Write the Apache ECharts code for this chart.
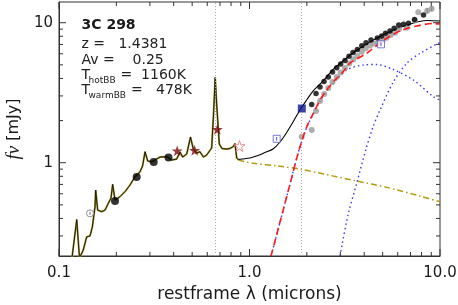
<!DOCTYPE html>
<html><head><meta charset="utf-8">
<script src="https://cdn.jsdelivr.net/npm/echarts@6/dist/echarts.min.js"></script>
<style>html,body{margin:0;padding:0;background:#fff}#c{width:458px;height:305px}</style>
</head><body><div id="c"></div>
<script>
// ---- data (restframe wavelength in microns, flux density in mJy) ----
const specLam=[0.117,0.1239,0.1281,0.1341,0.1397,0.1455,0.1496,0.1545,0.1558,0.1596,0.1675,0.1744,0.1815,0.1875,0.1913,0.1968,0.209,0.222,0.2359,0.2506,0.2662,0.2745,0.2829,0.2921,0.3066,0.3133,0.339,0.3675,0.3905,0.4148,0.4316,0.4459,0.4682,0.4901,0.5069,0.5281,0.5496,0.5723,0.5959,0.6329,0.6471,0.6606,0.6728,0.6942,0.7172,0.7592,0.79,0.8222,0.839,0.8568,0.8733];
const specFlux=[0.209,0.393,0.209,0.238,0.295,0.300,0.347,0.483,0.638,0.459,0.447,0.459,0.513,0.560,0.701,0.541,0.572,0.621,0.693,0.794,0.862,0.947,1.198,1.028,1.017,1.045,1.098,1.104,1.045,1.063,1.192,1.098,1.154,1.526,1.253,1.173,1.198,1.098,1.135,1.274,2.191,4.061,2.584,1.360,1.263,1.253,1.263,1.305,1.371,1.080,1.054];
const totLam=[0.8733,0.9134,1.006,1.108,1.206,1.329,1.446,1.573,1.692,1.841,2.004,2.154,2.345,2.552,2.744,2.987,3.494,4.291,5.270,6.711,8.548,10.0];
const totFlux=[1.054,1.063,1.080,1.126,1.183,1.253,1.406,1.657,1.953,2.379,2.828,3.252,3.649,4.128,4.632,5.112,6.076,7.281,8.440,9.630,10.37,10.28];
const diskLam=[0.8733,1.047,1.416,1.887,3.653,5.251,7.853,10.0];
const diskFlux=[1.045,0.990,0.947,0.894,0.740,0.667,0.578,0.526];
const dustLam=[1.297,1.446,1.632,1.819,1.996,2.162,2.345,2.543,2.754,3.095,3.371,4.123,5.040,6.166,7.545,9.223,10.0];
const dustFlux=[0.2157,0.3771,0.7046,1.232,1.799,2.253,2.805,3.306,3.789,4.445,5.154,6.046,7.463,8.724,9.472,9.870,9.788];
const hotLam=[1.297,1.446,1.632,1.819,1.996,2.162,2.345,2.647,3.237,3.957,4.654,5.686,7.242,9.223,10.0];
const hotFlux=[0.2157,0.3771,0.7046,1.232,1.784,2.228,2.759,3.473,4.593,4.988,5.028,4.632,3.896,2.961,2.805];
const warmLam=[2.987,3.289,3.653,4.074,4.449,4.842,5.686,6.687,7.853,9.797,10.0];
const warmFlux=[0.2157,0.4231,0.7126,1.232,1.799,2.379,3.771,5.129,6.046,7.126,7.16];
const optLam=[0.1968,0.2558,0.3141,0.3756];
const optFlux=[0.534,0.790,1.012,1.089];
const uvLam=[0.1455];
const uvFlux=[0.435];
const starLam=[0.4173,0.5155,0.6776];
const starFlux=[1.218,1.226,1.732];
const openStarLam=[0.886];
const openStarFlux=[1.316];
const nirLam=[1.882];
const nirFlux=[2.439];
const openSqLam=[1.389,4.901];
const openSqFlux=[1.482,7.009];
const irsBlackLam=[2.121,2.234,2.345,2.461,2.592,2.727,2.870,3.010,3.172,3.329,3.494,3.681,3.886,4.089,4.343,4.689,4.943,5.176,5.465,5.748,6.071,6.434,6.832,7.346,8.192];
const irsBlackFlux=[2.604,3.121,3.473,3.802,4.094,4.445,4.771,5.070,5.370,5.765,6.126,6.437,6.839,7.197,7.521,7.774,8.035,8.400,8.724,9.121,9.630,9.757,9.902,10.54,11.35];
const irsGrayLam=[1.879,2.121,2.234,2.345,2.470,2.592,2.727,2.870,3.010,3.172,3.341,3.507,3.681,3.882,4.074,4.291,4.504,4.745,5.003,5.251,5.511,5.805,6.093,6.687,7.392,7.692];
const irsGrayFlux=[1.534,1.713,2.341,2.759,3.095,3.417,3.771,4.094,4.409,4.747,5.112,5.479,5.784,6.208,6.564,6.874,7.104,7.161,7.521,7.815,8.168,8.484,8.973,9.211,10.37,11.87];
const errLam=[8.568,9.045];
const errFlux=[12.16,12.59];
const errLo=[11.6,12.0];
const errHi=[12.75,13.2];
const lineLam=[0.6563,1.875];
// axis ticks
const xMajor=[0.1,1,10];
const xLabels=['0.1','1.0','10.0'];
const xMinor=[0.2,0.3,0.4,0.5,0.6,0.7,0.8,0.9,2,3,4,5,6,7,8,9];
const yMajor=[1,10];
const yLabels=['1','10'];
const yMinor=[0.3,0.4,0.5,0.6,0.7,0.8,0.9,2,3,4,5,6,7,8,9];
const X0=0.1,X1=10,Y0=0.2157,Y1=14.06;

const pair=(a,b)=>a.map((v,i)=>[v,b[i]]);
const FONT='DejaVu Sans';
const TXT='#1a1a1a';
const FR='#333';
const STAR='path://M10,0L12.35,7.24L19.95,7.24L13.8,11.71L16.15,18.94L10,14.47L3.85,18.94L6.2,11.71L0.05,7.24L7.65,7.24Z';

function fmt(vals,labels){return v=>{for(let i=0;i<vals.length;i++){if(Math.abs(Math.log10(v)-Math.log10(vals[i]))<1e-6)return labels[i];}return '';};}

const chart=echarts.init(document.getElementById('c'));
chart.setOption({
  animation:false,
  backgroundColor:'#fff',
  grid:{left:59,right:18,top:2,bottom:49,containLabel:false,outerBoundsMode:'none',show:true,borderColor:FR,borderWidth:1,backgroundColor:'transparent'},
  xAxis:{type:'log',logBase:10,min:X0,max:X1,
    axisLine:{show:true,lineStyle:{color:FR,width:1}},axisTick:{show:false},splitLine:{show:false},minorTick:{show:false},
    axisLabel:{formatter:fmt(xMajor,xLabels),fontFamily:FONT,fontSize:15,color:TXT,margin:10},
    name:'restframe λ (microns)',nameLocation:'middle',nameGap:30,
    nameTextStyle:{fontFamily:FONT,fontSize:17,color:TXT}},
  yAxis:{type:'log',logBase:10,min:Y0,max:Y1,
    axisLine:{show:true,lineStyle:{color:FR,width:1}},axisTick:{show:false},splitLine:{show:false},minorTick:{show:false},
    axisLabel:{formatter:fmt(yMajor,yLabels),fontFamily:FONT,fontSize:15,color:TXT,margin:6},
    name:'{i|fν} [mJy]',nameLocation:'middle',nameGap:36,
    nameTextStyle:{fontFamily:FONT,fontSize:16,color:TXT,rich:{i:{fontFamily:'Liberation Serif',fontStyle:'italic',fontSize:19,color:TXT}}}},
  series:[
    {type:'line',data:[],silent:true,
      markLine:{silent:true,symbol:'none',label:{show:false},
        lineStyle:{color:'#a8a8a8',type:[1,2],width:1},
        data:lineLam.map(v=>({xAxis:v}))}},
    {type:'line',data:pair(specLam,specFlux),symbol:'none',lineStyle:{color:'#a39324',width:1.9},silent:true,z:2},
    {type:'line',data:pair(specLam,specFlux),symbol:'none',lineStyle:{color:'#111',width:0.9},silent:true,z:3},
    {type:'line',data:pair(diskLam,diskFlux),symbol:'none',smooth:0.3,lineStyle:{color:'#b39c12',width:1.5,type:[6,3,1.5,3]},silent:true,z:2},
    {type:'line',data:pair(warmLam,warmFlux),symbol:'none',smooth:0.3,lineStyle:{color:'#3b3bea',width:1.4,type:[1.5,3]},silent:true,z:2},
    {type:'line',data:pair(hotLam,hotFlux),symbol:'none',smooth:0.3,lineStyle:{color:'#3b3bea',width:1.4,type:[1.5,3]},silent:true,z:2},
    {type:'line',data:pair(totLam,totFlux),symbol:'none',smooth:0.3,lineStyle:{color:'#000',width:1.1},silent:true,z:3},
    {type:'scatter',data:pair(irsGrayLam,irsGrayFlux),symbol:'circle',symbolSize:6,itemStyle:{color:'#9a9a9a'},silent:true,z:4},
    {type:'line',data:pair(dustLam,dustFlux),symbol:'none',smooth:0.3,lineStyle:{color:'#ff1a1a',width:1.6,type:[7,4]},silent:true,z:5},
    {type:'scatter',data:pair(errLam,errFlux),symbol:'circle',symbolSize:6,itemStyle:{color:'#9a9a9a'},silent:true,z:6},
    {type:'scatter',data:pair(irsBlackLam,irsBlackFlux),symbol:'circle',symbolSize:5.5,itemStyle:{color:'#000'},silent:true,z:6},
    {type:'scatter',data:pair(optLam,optFlux),symbol:'circle',symbolSize:8,itemStyle:{color:'#000'},silent:true,z:6},
    {type:'scatter',data:pair(uvLam,uvFlux),symbol:'circle',symbolSize:7,itemStyle:{color:'#fff',borderColor:'#777',borderWidth:1},silent:true,z:6},
    {type:'scatter',data:pair(starLam,starFlux),symbol:STAR,symbolSize:11,itemStyle:{color:'#7a0a0a'},silent:true,z:6},
    {type:'scatter',data:pair(openStarLam,openStarFlux),symbol:STAR,symbolSize:11,itemStyle:{color:'#fff',borderColor:'#e07070',borderWidth:1},silent:true,z:6},
    {type:'scatter',data:pair(nirLam,nirFlux),symbol:'rect',symbolSize:8,itemStyle:{color:'#0b168a'},silent:true,z:6},
    {type:'scatter',data:pair(openSqLam,openSqFlux),symbol:'rect',symbolSize:7,itemStyle:{color:'#fff',borderColor:'#5a5ad8',borderWidth:1},silent:true,z:6}
  ]
});

// ---- ticks, error bars and annotation drawn as graphics positioned through the axes ----
const px=(x,y)=>chart.convertToPixel({gridIndex:0},[x,y]);
const G=[];
const seg=(a,b,color,z)=>G.push({type:'line',silent:true,z:z||100,shape:{x1:a[0],y1:a[1],x2:b[0],y2:b[1]},style:{stroke:color,lineWidth:1}});
const addX=(v,len)=>{const a=px(v,Y0),b=px(v,Y1);seg(a,[a[0],a[1]-len],FR);seg(b,[b[0],b[1]+len],FR);};
const addY=(v,len)=>{const a=px(X0,v),b=px(X1,v);seg(a,[a[0]+len,a[1]],FR);seg(b,[b[0]-len,b[1]],FR);};
xMajor.forEach(v=>addX(v,7));xMinor.forEach(v=>addX(v,4));
yMajor.forEach(v=>addY(v,7));yMinor.forEach(v=>addY(v,4));
errLam.forEach((v,i)=>seg(px(v,errLo[i]),px(v,errHi[i]),'#8a8a8a',90));
// small inner bars of the open symbols
const inner=(x,y,f,c)=>seg(px(x,y/f),px(x,y*f),c,110);
inner(uvLam[0],uvFlux[0],1.025,'#777');
openSqLam.forEach((v,i)=>inner(v,openSqFlux[i],1.03,'#5555cc'));

const T='#222';
G.push(
  {type:'text',x:81.5,y:25.5,silent:true,z:120,style:{text:'3C 298',font:'bold 14px "DejaVu Sans"',fill:TXT,verticalAlign:'middle'}},
  {type:'text',x:81.5,y:44,silent:true,z:120,style:{text:'z =   1.4381',font:'14px "DejaVu Sans"',fill:T,verticalAlign:'middle'}},
  {type:'text',x:81.5,y:60,silent:true,z:120,style:{text:'Av =    0.25',font:'14px "DejaVu Sans"',fill:T,verticalAlign:'middle'}},
  {type:'text',x:81.5,y:75.5,silent:true,z:120,style:{text:'T',font:'14px "DejaVu Sans"',fill:T,verticalAlign:'middle'}},
  {type:'text',x:88.5,y:80.5,silent:true,z:120,style:{text:'hotBB',font:'9px "DejaVu Sans"',fill:T,verticalAlign:'middle'}},
  {type:'text',x:116,y:75.5,silent:true,z:120,style:{text:' =  1160K',font:'14px "DejaVu Sans"',fill:T,verticalAlign:'middle'}},
  {type:'text',x:81.5,y:90.5,silent:true,z:120,style:{text:'T',font:'14px "DejaVu Sans"',fill:T,verticalAlign:'middle'}},
  {type:'text',x:88.5,y:95.5,silent:true,z:120,style:{text:'warmBB',font:'9px "DejaVu Sans"',fill:T,verticalAlign:'middle'}},
  {type:'text',x:126.5,y:90.5,silent:true,z:120,style:{text:' =   478K',font:'14px "DejaVu Sans"',fill:T,verticalAlign:'middle'}}
);
chart.setOption({graphic:G});
</script></body></html>
